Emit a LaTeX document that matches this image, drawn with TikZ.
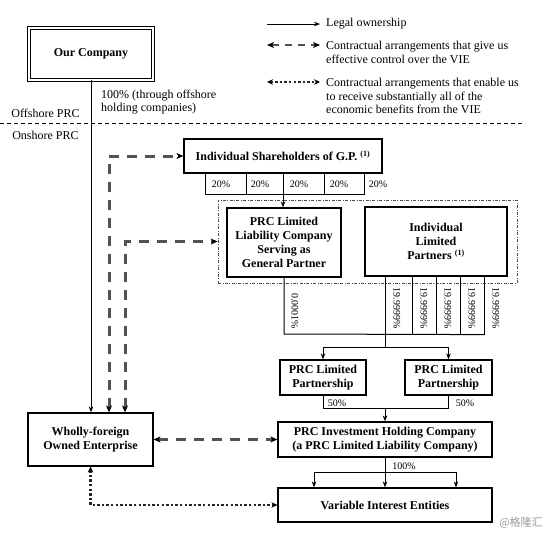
\documentclass[tikz,border=0pt]{standalone}
\usepackage{fontspec}
\setmainfont{Liberation Serif}
\newfontfamily\cjk{Noto Sans CJK SC}
\usetikzlibrary{arrows.meta,calc}
\begin{document}
\begin{tikzpicture}[x=1pt,y=-1pt,
  box/.style={draw,line width=1.2pt,font=\fontsize{12}{14}\selectfont\bfseries,align=center,inner sep=0pt},
  grpbox/.style={draw=black!70,line width=0.7pt,dash pattern=on 3pt off 1.5pt on 0.8pt off 1.5pt,inner sep=0pt},
  ln/.style={line width=1pt},
  own/.style={line width=1pt,-{Stealth[length=6pt,width=4.5pt]}},
  ctrl/.style={line width=3pt,draw=black!68,dash pattern=on 10pt off 8pt,
    {Stealth[length=7pt,width=6pt,black,inset=2pt]}-{Stealth[length=7pt,width=6pt,black,inset=2pt]}},
  bene/.style={line width=2.4pt,draw=black!85,dash pattern=on 2.4pt off 2.2pt,
    {Stealth[length=6pt,width=5.5pt,black]}-{Stealth[length=6pt,width=5.5pt,black]}},
  txt/.style={font=\fontsize{12}{14}\selectfont,inner sep=0pt,align=left},
  pct/.style={font=\fontsize{10}{12}\selectfont,inner sep=0pt},
]
\useasboundingbox (0,0) rectangle (550,538);

% ---------- legend ----------
\coordinate (l1a) at (267,24);  \coordinate (l1b) at (320,24);
\coordinate (l2a) at (267,45);  \coordinate (l2b) at (320,45);
\coordinate (l3a) at (267,82);  \coordinate (l3b) at (320,82);
\draw[own] (l1a) -- (l1b);
\draw[ctrl,line width=2.4pt,dash pattern=on 7pt off 6pt] (l2a) -- (l2b);
\draw[bene,line width=2pt] (l3a) -- (l3b);
\node[txt,anchor=west] (leg1) at (326,24) {Legal ownership};
\node[txt,anchor=west] (leg2) at (326,52) {Contractual arrangements that give us\\effective control over the VIE};
\node[txt,anchor=west,font=\fontsize{12}{13.5}\selectfont] (leg3) at (326,96) {Contractual arrangements that enable us\\to receive substantially all of the\\economic benefits from the VIE};

% ---------- offshore / onshore ----------
\draw[line width=0.8pt,dash pattern=on 4pt off 3pt] (0,123) -- (525,123);
\node[txt] (off) at (45.5,113) {Offshore PRC};
\node[txt] (on) at (45.5,135) {Onshore PRC};

% ---------- boxes ----------
\node[box,double,double distance=1.4pt,line width=0.9pt,minimum width=124pt,minimum height=52pt] (ourco) at (91,54) {Our Company};
\node[box,minimum width=125pt,minimum height=53pt] (wfoe) at (90.5,439.5) {Wholly-foreign\\Owned Enterprise};
\node[box,minimum width=198pt,minimum height=34pt] (gps) at (283,156) {Individual Shareholders of G.P. \textsuperscript{(1)}};
\node[grpbox,minimum width=299pt,minimum height=83pt] (grp) at (367.5,241.5) {};
\node[box,minimum width=114pt,minimum height=69pt] (gpllc) at (284,242.5) {PRC Limited\\Liability Company\\Serving as\\General Partner};
\node[box,minimum width=142pt,minimum height=69pt] (ilp) at (436,241.5) {Individual\\Limited\\Partners \textsuperscript{(1)}};
\node[box,minimum width=86pt,minimum height=35pt] (lp1) at (323,377.5) {PRC Limited\\Partnership};
\node[box,minimum width=87pt,minimum height=35pt] (lp2) at (448.5,377.5) {PRC Limited\\Partnership};
\node[box,minimum width=214pt,minimum height=35pt] (inv) at (385,439.5) {PRC Investment Holding Company\\(a PRC Limited Liability Company)};
\node[box,minimum width=214pt,minimum height=34pt] (vie) at (385,505) {Variable Interest Entities};

% ---------- Our Company -> WFOE ----------
\draw[own] (ourco.south) -- (ourco.south |- wfoe.north);
\node[txt,font=\fontsize{12}{13}\selectfont,anchor=west] (hund) at (101,102) {100\% (through offshore\\holding companies)};

% ---------- shareholders of G.P. ----------
\foreach \dx in {-78,-37,0,41,81} \draw[ln] ($(gps.south)+(\dx,0)$) -- ($(gps.south)+(\dx,21)$);
\draw[ln] ($(gps.south)+(-78,21)$) -- ($(gps.south)+(81,21)$);
\draw[own] ($(gps.south)+(0,21)$) -- (gps.south |- gpllc.north);
\foreach \dx/\n in {-62/a,-23/b,16/c,56/d,95/e} \node[pct] (p20\n) at ($(gps.south)+(\dx,11)$) {20\%};

% ---------- partners -> LPs ----------
\coordinate (bar) at (385,334);
\foreach \dx in {-51,-24,0,24,48} \draw[ln] ($(ilp.south)+(\dx,0)$) -- ($(ilp.south)+(\dx,58)$);
\draw[ln] (gpllc.south) -- (gpllc.south |- bar) -- ($(ilp.south)+(48,58)$);
\coordinate (split) at (385,347);
\draw[ln] (bar) -- (split);
\draw[own] (split) -| (lp1.north);
\draw[own] (split) -| (lp2.north);
\node[pct,rotate=-90] (p0) at (295,311) {0.0001\%};
\foreach \dx/\n in {-39/a,-12/b,12/c,36/d,60/e} \node[pct,rotate=-90] (p19\n) at ($(ilp.south)+(\dx,31.5)$) {19.9999\%};

% ---------- LPs -> investment co ----------
\coordinate (join) at (385,408);
\draw[ln] (lp1.south) |- (join);
\draw[ln] (lp2.south) |- (join);
\draw[own] (join) -- (inv.north);
\node[pct] (p50a) at (337,403) {50\%};
\node[pct] (p50b) at (465,403) {50\%};

% ---------- investment co -> VIE ----------
\coordinate (vsplit) at (385,472);
\draw[own] (inv.south) -- (vie.north);
\draw[own] (vsplit) -| ($(vie.north)+(-71,0)$);
\draw[own] (vsplit) -| ($(vie.north)+(71,0)$);
\node[pct] (p100) at (404,466) {100\%};

% ---------- contractual arrangements ----------
\draw[ctrl] ($(wfoe.north)+(18.5,0)$) |- (gps.west);
\draw[ctrl] ($(wfoe.north)+(34.5,0)$) |- (grp.west);
\draw[ctrl] (wfoe.east) -- (inv.west);
\draw[bene] (wfoe.south) |- (vie.west);

% ---------- watermark ----------
\node[inner sep=0pt,text=black!40,font=\cjk\fontsize{11}{12}\selectfont] (wm) at (521,523) {@格隆汇};
\end{tikzpicture}
\end{document}
